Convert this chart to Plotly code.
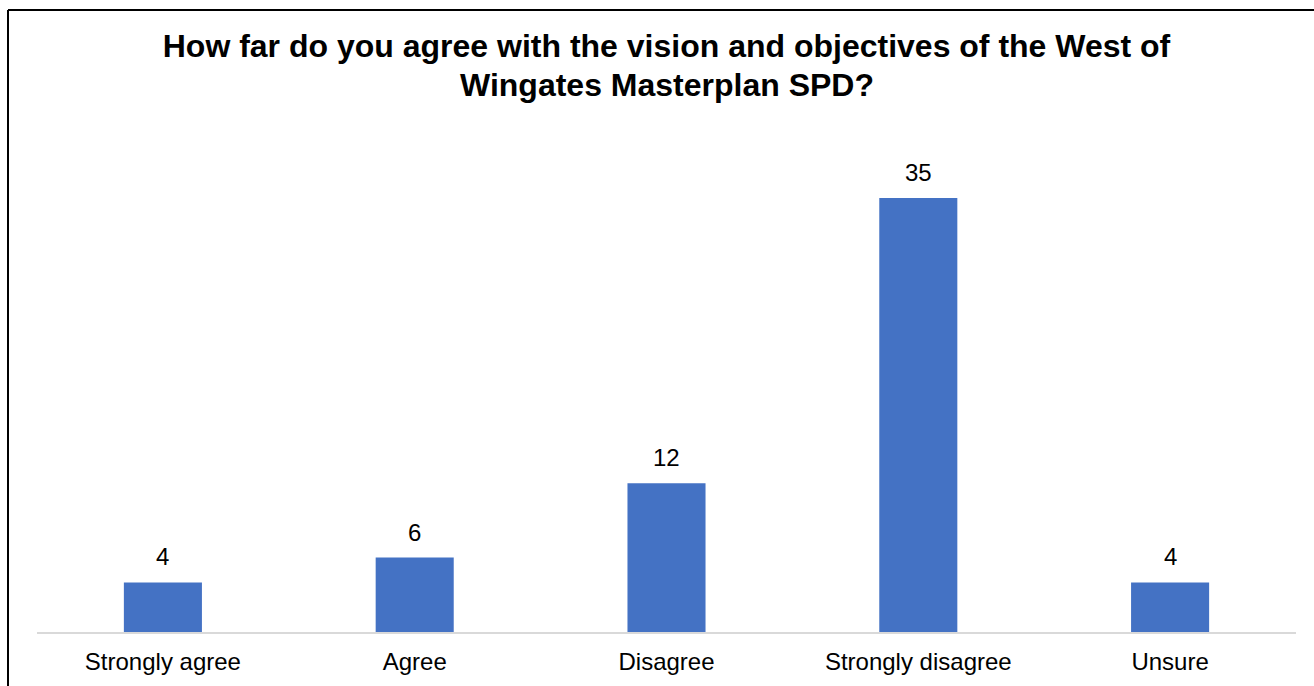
import plotly.graph_objects as go

# Survey responses
categories = ["Strongly agree", "Agree", "Disagree", "Strongly disagree", "Unsure"]
counts = [4, 6, 12, 35, 4]

title_line1 = "How far do you agree with the vision and objectives of the West of"
title_line2 = "Wingates Masterplan SPD?"

BAR_COLOR = "#4472C4"
FONT = "Liberation Sans, Arial, sans-serif"

W, H = 1314, 686
M_L, M_R, M_T, M_B = 37, 18, 136, 54
Y_MAX = 40

fig = go.Figure(
    go.Bar(
        x=categories,
        y=counts,
        marker=dict(color=BAR_COLOR, line=dict(width=0)),
        hoverinfo="x+y",
    )
)

# value labels above each bar
for c, v in zip(categories, counts):
    fig.add_annotation(
        x=c, y=v, text=str(v), showarrow=False,
        xref="x", yref="y", yanchor="bottom", yshift=10,
        font=dict(family=FONT, size=24, color="#000000"),
    )

plot_w = W - M_L - M_R
plot_h = H - M_T - M_B


def paper_y(px):
    """Convert a pixel row (from the top) into paper coordinates."""
    return (H - M_B - px) / plot_h


# second title line, set a little tighter than the default line height
fig.add_annotation(
    x=0.5, xref="paper", xanchor="center",
    y=paper_y(85), yref="paper", yanchor="middle",
    text=title_line2, showarrow=False,
    font=dict(family=FONT, size=32, color="#000000", weight="bold"),
)

# outer frame (left and top edges visible)
fx = (8 - M_L) / plot_w
fy = paper_y(10)
fig.add_shape(type="line", xref="paper", yref="paper",
              x0=fx, x1=fx, y0=-0.5, y1=fy,
              line=dict(color="#000000", width=2))
fig.add_shape(type="line", xref="paper", yref="paper",
              x0=fx, x1=1.5, y0=fy, y1=fy,
              line=dict(color="#000000", width=2))

fig.update_layout(
    width=W, height=H,
    margin=dict(l=M_L, r=M_R, t=M_T, b=M_B),
    paper_bgcolor="white",
    plot_bgcolor="white",
    bargap=0.69,
    showlegend=False,
    title=dict(
        text=title_line1,
        x=0.5, xref="paper", xanchor="center",
        y=1 - 35 / H, yref="container", yanchor="top",
        font=dict(family=FONT, size=32, color="#000000", weight="bold"),
    ),
    xaxis=dict(
        showline=True, linecolor="#D9D9D9", linewidth=2,
        showgrid=False, zeroline=False, ticks="",
        ticklabelstandoff=7,
        tickfont=dict(family=FONT, size=24, color="#000000"),
    ),
    yaxis=dict(
        range=[0, Y_MAX], visible=False, showgrid=False, zeroline=False,
    ),
)

fig.write_html("out.html")
